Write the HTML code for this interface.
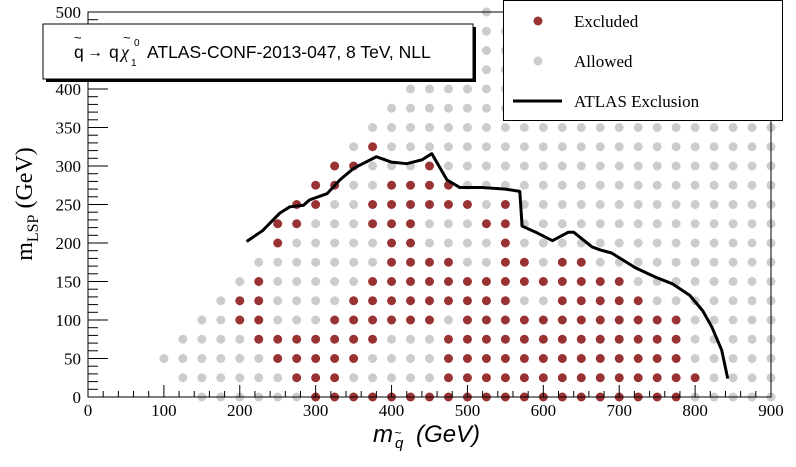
<!DOCTYPE html>
<html><head><meta charset="utf-8"><style>
html,body{margin:0;padding:0;background:#fff;}
svg{display:block;}
</style></head><body>
<svg id="chart" width="796" height="467" xmlns="http://www.w3.org/2000/svg">
<g id="dots"></g>
<g id="axes"></g>
<g id="line"></g>
<g font-family="Liberation Sans, sans-serif">
<rect x="46" y="27" width="430" height="55" fill="#000"/>
<rect x="43" y="24" width="430" height="55" fill="#fff" stroke="#000" stroke-width="1"/>
<text x="74" y="58" font-size="17.5">q</text>
<text x="74" y="42" font-size="13">~</text>
<text x="87" y="57" font-size="16">→</text>
<text x="109" y="58" font-size="17.5">q</text>
<text x="121" y="58" font-size="18" font-family="Liberation Serif, serif" font-style="italic">χ</text>
<text x="123" y="42" font-size="13">~</text>
<text x="134" y="46" font-size="10">0</text>
<text x="131" y="66" font-size="10">1</text>
<text x="147" y="58" font-size="17.5">ATLAS-CONF-2013-047, 8 TeV, NLL</text>
</g>
<g>
<rect x="503.5" y="0.5" width="279" height="120" fill="#fff" stroke="#000" stroke-width="1"/>
<circle cx="538" cy="21" r="4.5" fill="#993333"/>
<text x="574" y="27" font-family="Liberation Serif, serif" font-size="17">Excluded</text>
<circle cx="538" cy="61" r="4.5" fill="#cccccc"/>
<text x="574" y="67" font-family="Liberation Serif, serif" font-size="17">Allowed</text>
<line x1="513" y1="101" x2="562" y2="101" stroke="#000" stroke-width="3"/>
<text x="574" y="107" font-family="Liberation Serif, serif" font-size="17">ATLAS Exclusion</text>
</g>
<text transform="translate(32,204) rotate(-90)" text-anchor="middle" font-family="Liberation Serif, serif" font-size="24">m<tspan font-size="16" dy="6">LSP</tspan><tspan dy="-6"> (GeV)</tspan></text>
<text x="373" y="442" font-family="Liberation Sans, sans-serif" font-style="italic" font-size="24">m<tspan font-size="15" dx="2" dy="6">q</tspan><tspan font-size="12" dx="-9" dy="-11">~</tspan><tspan dx="8" dy="5"> (GeV)</tspan></text>
</svg>
<script>
const xTicks = [0,100,200,300,400,500,600,700,800,900];
const yTicks = [0,50,100,150,200,250,300,350,400,450,500];
const colStart = 100, colStep = 25;
const rowY = [0,25,50,75,100,125,150,175,200,225,250,275,300,325,350,375,400,425,450,475,500];
const rowPattern = [
 "..GGGGGGRRRRRRRRRRRRRRRRRRRRGGGGG",
 ".GGGGGGRRRGGGGGRRRRRRRRRRRRRRGGGG",
 "GGGGGGRRRRRGGGGRRRRRRRRRRRRRGGGGG",
 ".GGGGRRRRRRRGGGRRRRRRRRRRRRRGGGGG",
 "..GGRRGGGRRRRRRGRRRRRRRRRRRRGGGGG",
 "...GRRGGGGRRRRRRRRRGGRRRRRGGGGGGG",
 "....GRGGGGGRRRRRRRRRRRRRRGGGGGGGG",
 ".....GGGGGGGRRRRGGRRGRRGGGGGGGGGG",
 "......RGGGGGRRGGGGRGGGGGGGGGGGGGG",
 "......RRGGGRRRGGGRRGGGGGGGGGGGGGG",
 ".......RRGGRRRRRRGRGGGGGGGGGGGGGG",
 "........RRGGRRRRGGGGGGGGGGGGGGGGG",
 ".........RRGGGRGGGGGGGGGGGGGGGGGG",
 "..........GRGGGGGGGGGGGGGGGGGGGGG",
 "...........GGGGGGGGGGGGGGGGGGGGGG",
 "............GGGGGGGGGGGGGGGGGGGGG",
 ".............GGGGGGGGGGGGGGGGGGGG",
 ".................GGGGGGGGGGGGGGGG",
 ".................GGGGGGGGGGGGGGGG",
 ".................GGGGGGGGGGGGGGGG",
 ".................G..............."
];
const exclX = [209,230,253,266,284,292,315,332,350,380,400,420,440,453,473,490,520,550,569,572,590,612,633,640,664,675,690,721,747,770,793,810,822,835,843];
const exclY = [202,216,239,247,249,256,264,282,297,312,305,303,308,316,282,272,272,270,267,222,214,203,214,214,195,191,187,168,156,147,132,112,91,61,24];

const NS = "http://www.w3.org/2000/svg";
const X0 = 88, X1 = 771, Y0 = 397, Y1 = 12;
function sx(v){ return X0 + v*(X1-X0)/900; }
function sy(v){ return Y0 - v*(Y0-Y1)/500; }
function mk(tag, attrs, parent){ const e=document.createElementNS(NS,tag); for(const k in attrs) e.setAttribute(k,attrs[k]); parent.appendChild(e); return e; }

const dots = document.getElementById('dots');
rowY.forEach((yv, r) => {
  const p = rowPattern[r];
  for (let i = 0; i < p.length; i++) {
    const ch = p[i];
    if (ch === '.') continue;
    const xv = colStart + i*colStep;
    const c = mk('circle', {cx: sx(xv), cy: sy(yv), r: 4.5, fill: ch === 'R' ? '#993333' : '#cccccc'}, dots);
    
    
  }
});

const axes = document.getElementById('axes');
const fr = mk('path', {d:`M${X0},${Y0} L${X0},${Y1} L${X1},${Y1} L${X1},${Y0} Z`, fill:'none', stroke:'#000', 'stroke-width':1}, axes);


for (let v = 0; v <= 900; v += 20) {
  const major = v % 100 === 0;
  mk('line', {x1:sx(v), x2:sx(v), y1:Y0, y2:Y0-(major?12:6), stroke:'#000','stroke-width':1}, axes);
}
for (let v = 0; v <= 500; v += 10) {
  const major = v % 50 === 0;
  mk('line', {x1:X0, x2:X0+(major?20:10), y1:sy(v), y2:sy(v), stroke:'#000','stroke-width':1}, axes);
}
xTicks.forEach(v => {
  const t = mk('text', {x:sx(v), y:416, 'text-anchor':'middle', 'font-family':'Liberation Serif, serif', 'font-size':17}, axes);
  t.textContent = v;
  
  
});
yTicks.forEach(v => {
  const t = mk('text', {x:81, y:sy(v)+6, 'text-anchor':'end', 'font-family':'Liberation Serif, serif', 'font-size':17}, axes);
  t.textContent = v;
  
  
});

const lineG = document.getElementById('line');
const pts = exclX.map((x,i)=>sx(x)+','+sy(exclY[i])).join(' ');
const pl = mk('polyline', {points: pts, fill:'none', stroke:'#000', 'stroke-width':3, 'stroke-linejoin':'round'}, lineG);


</script>
</body></html>
